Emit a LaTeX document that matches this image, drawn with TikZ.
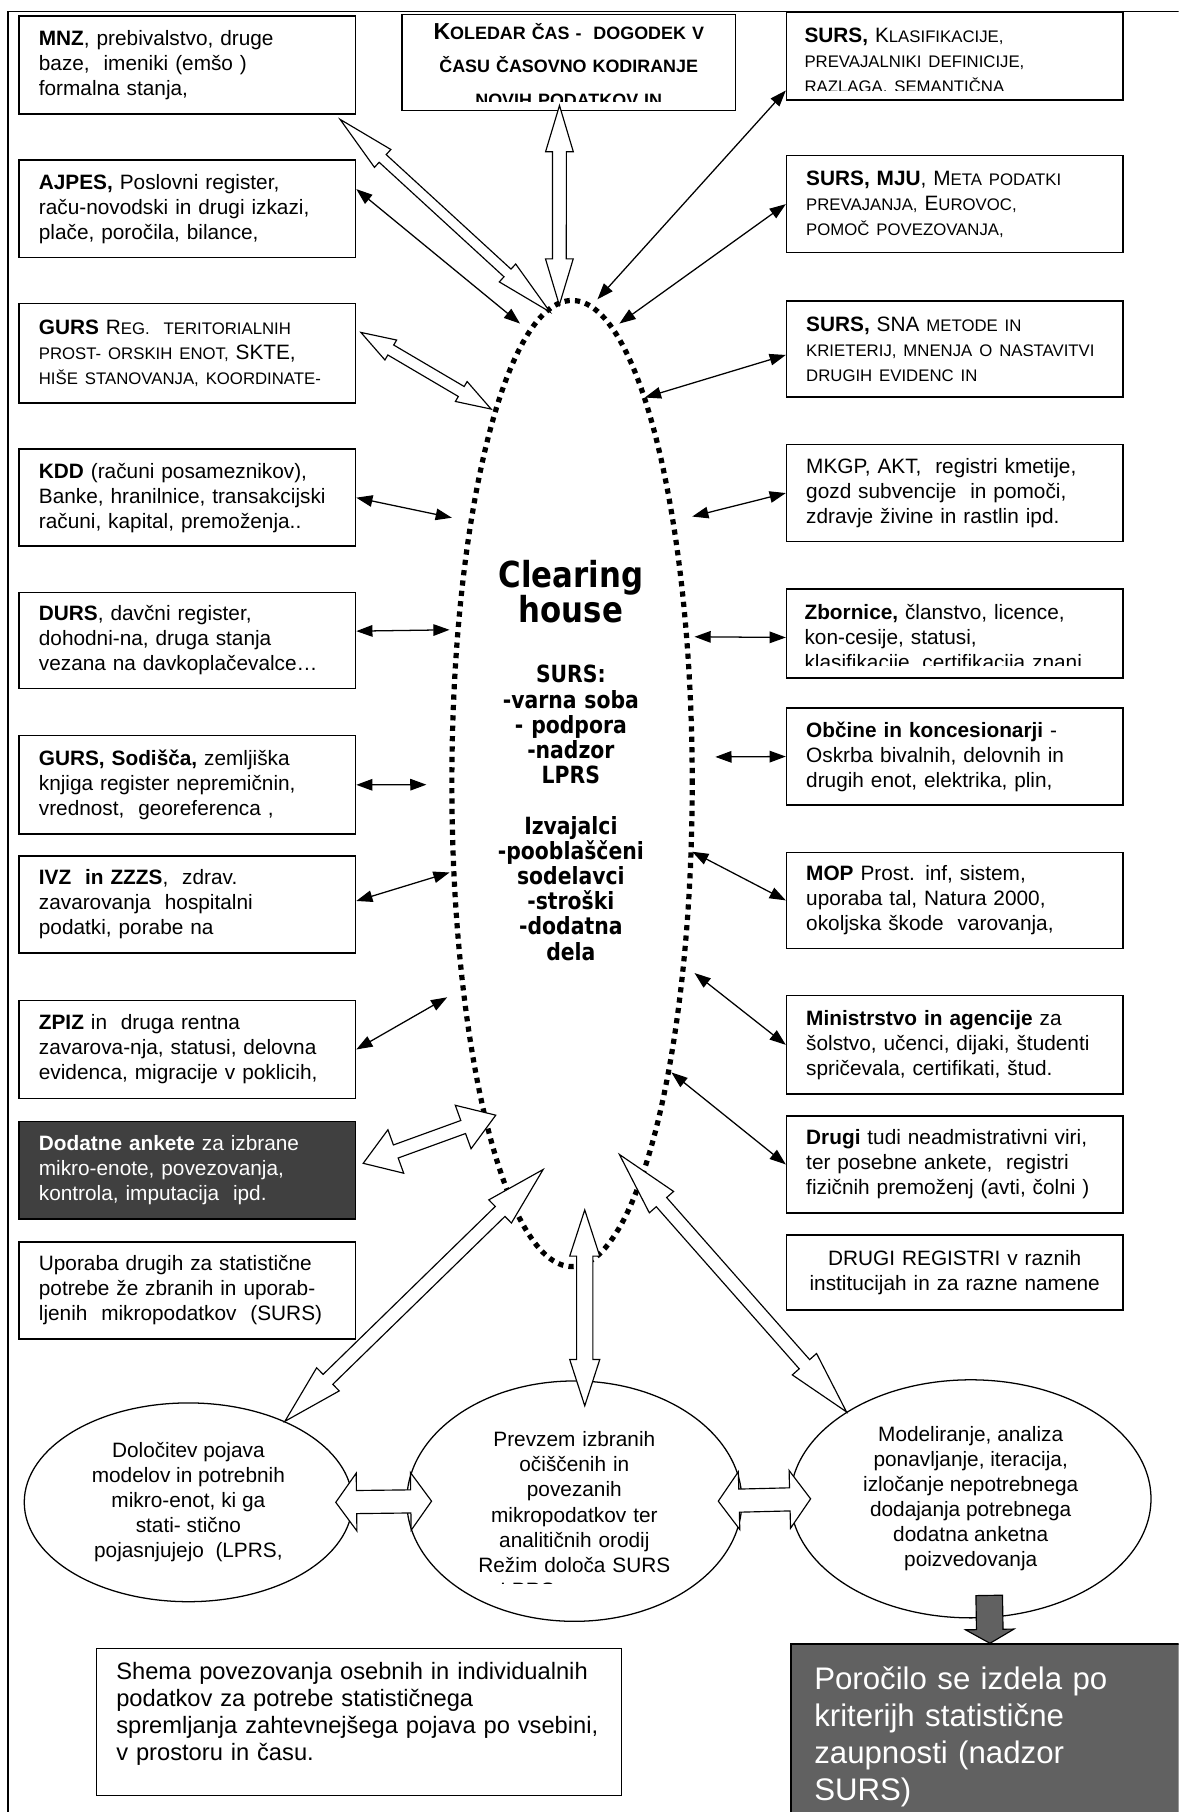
\documentclass[tikz,border=0pt]{standalone}
\usepackage{fontspec}
\setmainfont{Liberation Sans}
\newfontfamily\chfont[FakeStretch=0.86]{DejaVu Sans}
\usetikzlibrary{arrows.meta,calc,shapes.geometric}

\newcommand\boxfont{\fontsize{18}{21.7}\selectfont}
\newcommand\kap[1]{{\fontsize{14.5}{21.7}\selectfont #1}}

% block arrow with two heads: [style]{from}{to}{head length}{head half width}{shaft half width}
\newcommand\fatarrow[6][]{%
  \coordinate (fa1) at ($(#2)!#4!(#3)$);
  \coordinate (fa2) at ($(#3)!#4!(#2)$);
  \draw[fat,#1] (#2) -- ($(fa1)!#5!90:(#3)$) -- ($(fa1)!#6!90:(#3)$)
    -- ($(fa2)!#6!-90:(#2)$) -- ($(fa2)!#5!-90:(#2)$) -- (#3)
    -- ($(fa2)!#5!90:(#2)$) -- ($(fa2)!#6!90:(#2)$)
    -- ($(fa1)!#6!-90:(#3)$) -- ($(fa1)!#5!-90:(#3)$) -- cycle;
}

\begin{document}
\begin{tikzpicture}[x=1pt, y=-1pt,
  box/.style={draw, line width=1.3pt, anchor=north west, minimum width=291pt,
    text width=257pt, inner xsep=17pt, inner ysep=0pt, align=left, font=\boxfont},
  cut/.style={anchor=base west, text width=257pt, inner sep=0pt, align=left, font=\boxfont},
  dark/.style={fill=black!75, text=white},
  bub/.style={draw, ellipse, line width=1.1pt, inner sep=0pt, align=center, font=\boxfont},
  link/.style={{Triangle[length=14pt,width=10pt]}-{Triangle[length=14pt,width=10pt]}, line width=1.1pt},
  fat/.style={draw, fill=white, line width=1pt}]

\useasboundingbox (0,0) rectangle (1020,1568);
\fill[white] (0,0) rectangle (1020,1568);
\clip (0,0) rectangle (1020,1568);

% frame
\draw[line width=1.3pt] (1020,10) -- (7,10) -- (7,1568);

% left column
\node[box, minimum height=85pt] (mnz) at (16,13)
  {\textbf{MNZ}, prebivalstvo, druge\\baze,\ \ imeniki (emšo )\\formalna stanja,};
\node[box, minimum height=84pt] (ajpes) at (16,138)
  {\textbf{AJPES,} Poslovni register,\\raču-novodski in drugi izkazi,\\plače, poročila, bilance,};
\node[box, minimum height=86pt] (gursreg) at (16,262)
  {\textbf{GURS} R\kap{EG.}\ \ \kap{TERITORIALNIH}\\\kap{PROST- ORSKIH ENOT,} SKTE,\\\kap{HIŠE STANOVANJA, KOORDINATE-}};
\node[box, minimum height=84pt] (kdd) at (16,388)
  {\textbf{KDD} (računi posameznikov),\\Banke, hranilnice, transakcijski\\računi, kapital, premoženja..};
\node[box, minimum height=83pt] (durs) at (16,512)
  {\textbf{DURS}, davčni register,\\dohodni-na, druga stanja\\vezana na davkoplačevalce…};
\node[box, minimum height=85pt] (gurssod) at (16,636)
  {\textbf{GURS, Sodišča,} zemljiška\\knjiga register nepremičnin,\\vrednost,\ \ georeferenca ,};
\node[box, minimum height=84pt] (ivz) at (16,740)
  {\textbf{IVZ\ \ in ZZZS},\ \ zdrav.\\zavarovanja\ \ hospitalni\\podatki, porabe na};
\node[box, minimum height=85pt] (zpiz) at (16,865)
  {\textbf{ZPIZ} in\ \ druga rentna\\zavarova-nja, statusi, delovna\\evidenca, migracije v poklicih,};
\node[box, dark, minimum height=84pt] (dod) at (16,970)
  {\textbf{Dodatne ankete} za izbrane\\mikro-enote, povezovanja,\\kontrola, imputacija\ \ ipd.};
\node[box, minimum height=84pt] (upo) at (16,1074)
  {Uporaba drugih za statistične\\potrebe že zbranih in uporab-\\ljenih\ \ mikropodatkov\ \ (SURS)};

% top middle
\node[box, minimum width=289pt, text width=255pt, minimum height=83pt] (kol) at (347,12) {};
\begin{scope}
  \clip (kol.north west) rectangle ([yshift=8.5pt]kol.south east);
  \node[anchor=base, text width=280pt, align=center, inner sep=0pt,
    font=\bfseries\fontsize{15.5}{29}\selectfont] (koltxt) at ($(kol.north)+(0,22)$)
    {{\fontsize{20}{29}\selectfont K}OLEDAR ČAS -\ \ DOGODEK V\\ČASU ČASOVNO KODIRANJE\\NOVIH PODATKOV IN};
\end{scope}

% right column
\node[box, minimum height=76pt] (klas) at (680,10) {};
\begin{scope}
  \clip (klas.north west) rectangle ([yshift=9pt]klas.south east);
  \node[cut] (klastxt) at ($(klas.north west)+(16,27)$)
    {\textbf{SURS,}\ K\kap{LASIFIKACIJE,}\\\kap{PREVAJALNIKI DEFINICIJE,}\\\kap{RAZLAGA, SEMANTIČNA}};
\end{scope}
\node[box, minimum height=84pt] (mju) at (680,134)
  {\textbf{SURS, MJU},\ M\kap{ETA PODATKI}\\\kap{PREVAJANJA,}\ E\kap{UROVOC,}\\\kap{POMOČ POVEZOVANJA,}};
\node[box, minimum height=83pt] (sna) at (680,260)
  {\textbf{SURS,} SNA \kap{METODE IN}\\\kap{KRIETERIJ, MNENJA O NASTAVITVI}\\\kap{DRUGIH EVIDENC IN}};
\node[box, minimum height=84pt] (mkgp) at (680,384)
  {MKGP, AKT,\ \ registri kmetije,\\gozd subvencije\ \ in pomoči,\\zdravje živine in rastlin ipd.};
\node[box, minimum height=77pt] (zbor) at (680,509) {};
\begin{scope}
  \clip (zbor.north west) rectangle ([yshift=11pt]zbor.south east);
  \node[cut] (zbortxt) at ($(zbor.north west)+(16,27)$)
    {\textbf{Zbornice,} članstvo, licence,\\kon-cesije, statusi,\\klasifikacije, certifikacija znanj};
\end{scope}
\node[box, minimum height=84pt] (obc) at (680,612)
  {\textbf{Občine in koncesionarji} -\\Oskrba bivalnih, delovnih in\\drugih enot, elektrika, plin,};
\node[box, minimum height=83pt] (mop) at (680,737)
  {\textbf{MOP} Prost. inf, sistem,\\uporaba tal, Natura 2000,\\okoljska škode\ \ varovanja,};
\node[box, minimum height=85pt] (mins) at (680,861)
  {\textbf{Ministrstvo in agencije} za\\šolstvo, učenci, dijaki, študenti\\spričevala, certifikati, štud.};
\node[box, minimum height=84pt] (drugi) at (680,965)
  {\textbf{Drugi} tudi neadmistrativni viri,\\ter posebne ankete,\ \ registri\\fizičnih premoženj (avti, čolni )};
\node[box, minimum height=65pt, align=center] (reg) at (680,1068)
  {DRUGI REGISTRI v raznih\\institucijah in za razne namene};

% clearing house
\node[draw, ellipse, minimum width=208pt, minimum height=836pt, inner sep=0pt, outer sep=0pt,
  line width=4.5pt, dash pattern=on 4.5pt off 4.5pt] (ch) at (495,678) {};
\node[anchor=base, text width=200pt, align=center, inner sep=0pt,
  font=\chfont\bfseries\fontsize{31}{31}\selectfont] (chtitle) at (494,508) {Clearing\\house};
\node[anchor=base, text width=200pt, align=center, inner sep=0pt,
  font=\chfont\bfseries\fontsize{20.5}{21.8}\selectfont] (chbody) at (494,591)
  {SURS:\\-varna soba\\- podpora\\-nadzor\\LPRS\\[21.8pt]Izvajalci\\-pooblaščeni\\sodelavci\\-stroški\\-dodatna\\dela};

% bottom row
\node[bub, minimum width=284pt, minimum height=172pt] (lell) at (163,1300)
  {Določitev pojava\\modelov in potrebnih\\mikro-enot, ki ga\\stati- stično\\pojasnjujejo\ \ (LPRS,};
\node[bub, minimum width=290pt, minimum height=208pt] (mell) at (497,1299) {};
\coordinate (mellcut) at ([yshift=33pt]mell.south);
\begin{scope}
  \clip (mell.west |- mell.north) rectangle (mell.east |- mellcut);
  \node[anchor=base, text width=200pt, align=center, inner sep=0pt, font=\boxfont] (melltxt)
    at ($(mell.center)+(0,-47)$)
    {Prevzem izbranih\\očiščenih in\\povezanih\\mikropodatkov ter\\analitičnih orodij\\Režim določa SURS\\LPRS\rule{4.5em}{0pt}};
\end{scope}
\node[bub, minimum width=312pt, minimum height=206pt] (rell) at (840,1297)
  {Modeliranje, analiza\\ponavljanje, iteracija,\\izločanje nepotrebnega\\dodajanja potrebnega\\dodatna anketna\\poizvedovanja};

\node[box, minimum width=454pt, text width=420pt, minimum height=127pt,
  font=\fontsize{20.5}{23.5}\selectfont] (shema) at (83,1426)
  {Shema povezovanja osebnih in individualnih\\podatkov za potrebe statističnega\\spremljanja zahtevnejšega pojava po vsebini,\\v prostoru in času.\rule[-18pt]{0pt}{0pt}};
\node[box, fill=black!62, text=white, minimum width=340pt, text width=300pt, inner xsep=20pt,
  minimum height=160pt, font=\fontsize{27}{32}\selectfont] (por) at (684,1422)
  {Poročilo se izdela po\\kriterijh statistične\\zaupnosti (nadzor\\SURS)};

% free ends at the clearing house
\coordinate (mnzE) at (476,270);
\coordinate (kolE) at (484,264);
\coordinate (klasE) at (517,259);
\coordinate (mjuE) at (536,280);
\coordinate (ajpesE) at (450,280);
\coordinate (gursE) at (425,354);
\coordinate (snaE) at (558,344);
\coordinate (kddE) at (391,448);
\coordinate (mkgpE) at (599,447);
\coordinate (dursE) at (389,545);
\coordinate (zborE) at (601,551);
\coordinate (sodE) at (369,679);
\coordinate (obcE) at (619,655);
\coordinate (ivzE) at (389,755);
\coordinate (mopE) at (599,737);
\coordinate (zpizE) at (387,863);
\coordinate (minsE) at (601,842);
\coordinate (dodE) at (429,965);
\coordinate (drugiE) at (581,928);
\coordinate (lellE) at (470,1012);
\coordinate (mellE) at (506,1047);
\coordinate (rellE) at (536,999);

% ends on the boxes
\coordinate (ajpesA) at ([yshift=17pt]ajpes.east);
\coordinate (klasA) at ([yshift=9pt]klas.south west);
\coordinate (snaA) at ([yshift=-5pt]sna.west);
\coordinate (dursA) at ([yshift=8pt]durs.east);
\coordinate (zborA) at ([yshift=-3.5pt]zbor.west);
\coordinate (ivzA) at ([yshift=3pt]ivz.east);
\coordinate (mnzA) at ([xshift=-14pt,yshift=-4pt]mnz.south east);
\coordinate (kolA) at ([xshift=-8pt,yshift=5pt]kol.south);
\coordinate (gursA) at ([xshift=4pt,yshift=18pt]gursreg.east);
\coordinate (dodA) at ([xshift=6pt,yshift=6pt]dod.east);
\coordinate (mellA) at ([xshift=9pt,yshift=-22pt]mell.north);
\coordinate (lmA) at ([xshift=-15pt]lell.east);
\coordinate (lmB) at ([xshift=22pt]mell.west);
\coordinate (mrA) at ([xshift=-21pt]mell.east);
\coordinate (mrB) at ([xshift=18pt]rell.west);
\coordinate (porA) at ([xshift=16pt,yshift=20pt]rell.south);
\coordinate (porB) at ([xshift=2pt]por.north);

% thin links
\foreach \a/\b in {ajpesA/ajpesE, klasA/klasE, mju.west/mjuE, snaA/snaE, kdd.east/kddE,
  mkgp.west/mkgpE, dursA/dursE, zborA/zborE, gurssod.east/sodE, obc.west/obcE,
  ivzA/ivzE, mop.west/mopE, zpiz.east/zpizE, mins.west/minsE, drugi.west/drugiE}
  \draw[link] (\a) -- (\b);

% block arrows
\fatarrow{mnzA}{mnzE}{50pt}{10.5pt}{4.5pt}
\fatarrow{kolA}{kolE}{40pt}{12pt}{6pt}
\fatarrow{gursA}{gursE}{30pt}{10pt}{5pt}
\fatarrow{dodA}{dodE}{30pt}{20pt}{6pt}
\fatarrow{lell.40}{lellE}{52pt}{14pt}{6pt}
\fatarrow{mellA}{mellE}{40pt}{13pt}{7pt}
\fatarrow{rell.145}{rellE}{55pt}{14pt}{6pt}
\fatarrow{lmA}{lmB}{18pt}{25pt}{10pt}
\fatarrow{mrA}{mrB}{18pt}{25pt}{10pt}

% report arrow
\coordinate (fa2) at ($(porB)!12pt!(porA)$);
\draw[fat, fill=black!62] ($(porA)!11.5pt!90:(porB)$) -- ($(fa2)!11.5pt!-90:(porA)$)
  -- ($(fa2)!21pt!-90:(porA)$) -- (porB) -- ($(fa2)!21pt!90:(porA)$)
  -- ($(fa2)!11.5pt!90:(porA)$) -- ($(porA)!11.5pt!-90:(porB)$) -- cycle;
\end{tikzpicture}
\end{document}
